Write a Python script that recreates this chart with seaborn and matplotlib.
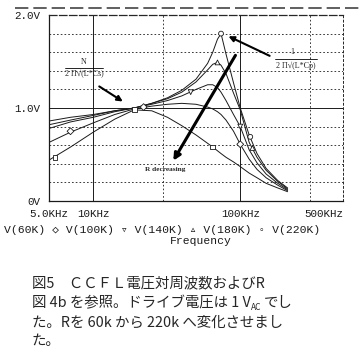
import numpy as np
import pandas as pd
import matplotlib
matplotlib.use('Agg')
import matplotlib.pyplot as plt
from matplotlib.lines import Line2D
from matplotlib.ticker import NullLocator
import seaborn as sns

# simulated sweep, values (kHz / volts)
freq_khz = [5, 7, 10, 14, 19, 25, 32, 40, 50, 60, 65, 70, 74, 80, 90, 100, 115, 130, 150, 180, 210]
v_60k  = [0.44, 0.58, 0.74, 0.88, 0.98, 0.97, 0.90, 0.81, 0.71, 0.62, 0.58, 0.54, 0.51, 0.47, 0.42, 0.37, 0.30, 0.25, 0.19, 0.14, 0.10]
v_100k = [0.63, 0.74, 0.84, 0.93, 0.99, 1.02, 1.04, 1.05, 1.04, 1.01, 0.99, 0.96, 0.93, 0.87, 0.75, 0.61, 0.45, 0.34, 0.25, 0.17, 0.11]
v_140k = [0.78, 0.85, 0.90, 0.96, 1.00, 1.04, 1.08, 1.13, 1.20, 1.25, 1.25, 1.22, 1.17, 1.08, 0.93, 0.80, 0.55, 0.41, 0.29, 0.19, 0.12]
v_180k = [0.82, 0.87, 0.92, 0.97, 1.00, 1.05, 1.10, 1.17, 1.28, 1.41, 1.47, 1.49, 1.46, 1.37, 1.16, 0.98, 0.63, 0.47, 0.33, 0.21, 0.13]
v_220k = [0.86, 0.90, 0.93, 0.97, 1.00, 1.05, 1.11, 1.19, 1.31, 1.48, 1.60, 1.74, 1.80, 1.58, 1.27, 1.00, 0.71, 0.51, 0.35, 0.22, 0.14]
traces = ['V(60K)', 'V(100K)', 'V(140K)', 'V(180K)', 'V(220K)']

# trace markers as seen in the picture
mk_trace = ['V(60K)', 'V(60K)', 'V(60K)', 'V(100K)', 'V(100K)', 'V(100K)',
            'V(140K)', 'V(140K)', 'V(180K)', 'V(180K)', 'V(220K)', 'V(220K)']
mk_freq = [5.5, 19, 65, 7, 22, 100, 46, 100, 70, 121, 74, 117]
mk_volt = [0.47, 0.98, 0.58, 0.75, 1.01, 0.61, 1.17, 0.80, 1.49, 0.57, 1.80, 0.69]

legend_line = 'V(60K) \u25c7 V(100K) \u25bf V(140K) \u25b5 V(180K) \u25e6 V(220K)'
caption = ['図5　ＣＣＦＬ電圧対周波数およびR',
           '図 4b を参照。ドライブ電圧は 1 V',
           'た。Rを 60k から 220k へ変化させまし',
           'た。']

sns.set_style('white')
plt.rcParams['font.family'] = ['Liberation Mono', 'DejaVu Sans Mono']

rows = []
for name, vals in zip(traces, [v_60k, v_100k, v_140k, v_180k, v_220k]):
    for f, v in zip(freq_khz, vals):
        rows.append((f * 1000, v, name))
df = pd.DataFrame(rows, columns=['freq', 'volt', 'trace'])
mk = pd.DataFrame({'freq': np.array(mk_freq) * 1000, 'volt': mk_volt, 'trace': mk_trace})

fig = plt.figure(figsize=(3.59, 3.59), dpi=100)
ax = fig.add_axes([49/359, 1-201/359, 294/359, 186/359])

sns.lineplot(data=df, x='freq', y='volt', units='trace', estimator=None,
             color='#1a1a1a', lw=0.7, ax=ax, legend=False)
sns.scatterplot(data=mk, x='freq', y='volt', style='trace',
                markers={'V(60K)': 's', 'V(100K)': 'D', 'V(140K)': 'v', 'V(180K)': '^', 'V(220K)': 'o'},
                s=12, facecolor='white', edgecolor='#1a1a1a', linewidth=0.6, ax=ax, legend=False, zorder=5)

ax.set_xscale('log')
ax.set_xlim(5e3, 5e5)
ax.set_ylim(0, 2)
ax.xaxis.set_minor_locator(NullLocator())
ax.set_xticks([5e3, 1e4, 1e5, 5e5])
ax.set_xticklabels(['5.0KHz', '10KHz', '100KHz', '500KHz'])
ax.get_xticklabels()[-1].set_ha('right')
ax.set_yticks([0, 1, 2])
ax.set_yticklabels(['0V', '1.0V', '2.0V'])
ax.tick_params(axis='both', labelsize=7.8, length=3, width=0.8, color='#1a1a1a', labelcolor='#1a1a1a')
ax.tick_params(axis='x', pad=3)
ax.tick_params(axis='y', pad=3)
ax.set_xlabel('')
ax.set_ylabel('')

# grid
for y in [0.2, 0.4, 0.6, 0.8, 1.2, 1.4, 1.6, 1.8]:
    ax.axhline(y, color='#1a1a1a', lw=0.6, ls=(0, (2, 2.5)), zorder=0)
ax.axhline(1.0, color='#1a1a1a', lw=0.7, zorder=0)
for x in [3e4, 3e5]:
    ax.axvline(x, color='#1a1a1a', lw=0.6, ls=(0, (2, 2.5)), zorder=0)
for x in [1e4, 1e5]:
    ax.axvline(x, color='#1a1a1a', lw=0.7, zorder=0)

for side in ['left', 'bottom']:
    ax.spines[side].set_color('#1a1a1a')
    ax.spines[side].set_linewidth(0.9)
ax.spines['top'].set_linestyle((0, (6, 2)))
ax.spines['top'].set_linewidth(0.9)
ax.spines['right'].set_linestyle((0, (2, 2.5)))
ax.spines['right'].set_linewidth(0.7)

# annotations
serif = ['Liberation Serif', 'DejaVu Serif']
ax.text(0.119, 0.750, 'N', transform=ax.transAxes, ha='center', va='center', fontsize=5.8, family=serif)
ax.add_line(Line2D([0.054, 0.184], [0.715, 0.715], transform=ax.transAxes, color='black', lw=0.6))
ax.text(0.119, 0.680, '2 Π√(L*Cs)', transform=ax.transAxes, ha='center', va='center', fontsize=5.8, family=serif)
ax.annotate('', xy=(0.259, 0.527), xytext=(0.163, 0.624), xycoords='axes fraction',
            arrowprops=dict(arrowstyle='-|>', color='black', lw=1.5, mutation_scale=8))

ax.text(0.827, 0.800, '1', transform=ax.transAxes, ha='center', va='center', fontsize=5.8, family=serif)
ax.add_line(Line2D([0.769, 0.912], [0.763, 0.763], transform=ax.transAxes, color='black', lw=0.6))
ax.text(0.840, 0.728, '2 Π√(L*Cp)', transform=ax.transAxes, ha='center', va='center', fontsize=5.8, family=serif)
ax.annotate('', xy=(0.602, 0.892), xytext=(0.759, 0.774), xycoords='axes fraction',
            arrowprops=dict(arrowstyle='-|>', color='black', lw=1.5, mutation_scale=8))

ax.annotate('', xy=(0.418, 0.204), xytext=(0.639, 0.796), xycoords='axes fraction',
            arrowprops=dict(arrowstyle='-|>', color='black', lw=2.2, mutation_scale=10))
ax.text(0.395, 0.172, 'R decreasing', transform=ax.transAxes, ha='center', va='center',
        fontsize=5.3, family=serif, weight='bold')

# scan edge line at top
fig.add_artist(Line2D([15/359, 1], [1-8/359, 1-8/359], transform=fig.transFigure,
                      color='#444444', lw=1.2, ls=(0, (8, 3))))

fig.text(162/359, 1-230/359, legend_line, ha='center', va='center', fontsize=8.2, color='#1a1a1a')
fig.text(201/359, 1-241/359, 'Frequency', ha='center', va='center', fontsize=8.2, color='#1a1a1a')

# caption
cjk = ['Noto Sans CJK JP', 'DejaVu Sans']
cap_y = [283, 303, 322.5, 341.5]
cap_size = 10.4
renderer = fig.canvas.get_renderer()
for i, line in enumerate(caption):
    t = fig.text(32/359, 1-cap_y[i]/359, line, ha='left', va='center', fontsize=cap_size, family=cjk)
    if i == 1:
        bb = t.get_window_extent(renderer)
        x1 = bb.x1 / fig.bbox.width
        ts = fig.text(x1, 1-(cap_y[i]+4)/359, 'AC', ha='left', va='center', fontsize=6, family=cjk)
        bb2 = ts.get_window_extent(renderer)
        fig.text(bb2.x1 / fig.bbox.width + 3/359, 1-cap_y[i]/359, 'でし', ha='left', va='center',
                 fontsize=cap_size, family=cjk)

fig.savefig('out.png', dpi=100)
